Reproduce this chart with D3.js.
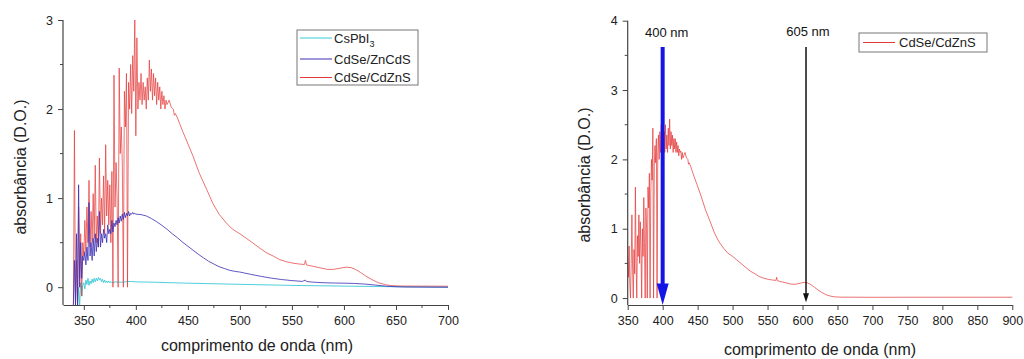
<!DOCTYPE html>
<html>
<head>
<meta charset="utf-8">
<script src="https://cdn.jsdelivr.net/npm/d3@7/dist/d3.min.js"></script>
<style>
  html, body { margin: 0; padding: 0; background: #fff; }
  svg { display: block; font-family: "Liberation Sans", Arial, sans-serif; }
</style>
</head>
<body>
<svg id="chart" width="1024" height="359"></svg>
<script>
// ---------------- DATA ----------------
// noisy head of spectra, 1 nm sampling
const redHeadLeftStart = 340;
const redHeadLeft = [
  -0.2, 1.76, -0.2, 0.3, -0.2, 0.9, 0.1, 0.6, -0.1, 0.5,
  0.35, 0.75, 0.4, 0.9, 0.5, 1.2, 0.45, 0.85, 0.5, 1.05,
  0.55, 1.37, 0.5, 0.8, 0.45, 1.45, 0.6, 1.0, 0.7, 1.25,
  0.6, 1.6, 0.8, 1.2, 0.7, 1.15, 0.5, 1.3, 0.0, 2.38,
  0.9, 1.4, 1.0, 0.0, 2.46, 1.5, 1.8, 1.4, 0.0, 2.2,
  1.8, 2.4, 0.0, 2.3, 2.0, 2.5, 1.95, 2.6, 2.2, 3.0,
  1.7, 2.8, 2.0, 2.3, 2.1, 2.4, 2.05, 2.3, 2.1, 2.25,
  2.0, 2.35, 2.1, 2.55, 2.2, 2.45, 2.1, 2.4, 2.15, 2.35,
  2.05, 2.3, 2.1, 2.25, 2.0, 2.2, 2.05, 2.15, 2.0, 2.1,
  2.05
];
const redHeadRightStart = 350;
const redHeadRight = [
  0.6, 0.3, 0.75, 0.2, 0.0, 0.5, 1.2, 0.4, 0.0, 0.7,
  0.35, 1.6, 0.5, 0.0, 0.9, 0.6, 1.2, 0.5, 1.1, 0.7,
  0.0, 1.0, 0.6, 1.45, 0.8, 0.0, 1.3, 1.0, 0.0, 1.6,
  1.3, 1.8, 0.0, 1.5, 2.0, 1.7, 2.45, 0.0, 1.9, 2.2,
  1.95, 2.3, 0.0, 2.1, 2.35, 2.0, 2.4, 2.1, 2.5, 2.2,
  2.45, 2.05, 2.4, 2.1, 2.5, 2.15, 2.35, 2.1, 2.45, 2.2,
  2.58, 2.15, 2.4, 2.2, 2.35, 2.1, 2.3, 2.15, 2.3, 2.1,
  2.25, 2.1, 2.2, 2.05, 2.15, 2.1, 2.12, 2.0, 2.1, 2.02,
  2.05
];
// smooth tail of CdSe/CdZnS (shared)
const redTailNm  = [432, 434, 436, 437, 438, 440, 442, 445, 449, 455, 461, 468, 474, 480, 487, 493, 500, 506, 512, 519, 525, 532, 538, 545, 551, 557, 562, 563, 564, 570, 576, 584, 590, 597, 602, 607, 611, 616, 621, 627, 633, 640, 645, 655, 680, 700, 750, 800, 850, 900];
const redTailVal = [2.1, 2.02, 2.0, 1.93, 1.95, 1.9, 1.84, 1.75, 1.64, 1.47, 1.28, 1.1, 0.94, 0.82, 0.72, 0.65, 0.6, 0.55, 0.5, 0.44, 0.39, 0.35, 0.31, 0.285, 0.27, 0.26, 0.255, 0.3, 0.25, 0.235, 0.22, 0.2, 0.2, 0.215, 0.225, 0.22, 0.2, 0.165, 0.125, 0.085, 0.05, 0.028, 0.018, 0.013, 0.012, 0.011, 0.012, 0.012, 0.012, 0.012];

const blueHeadStart = 340;
const blueHead = [
  -0.2, 0.3, -0.2, 0.6, -0.2, 1.15, 0.0, 0.5, 0.1, 0.35,
  0.3, 0.4, 0.25, 0.45, 0.3, 0.95, 0.35, 0.5, 0.3, 0.55,
  0.35, 0.6, 0.4, 0.55, 0.45, 0.85, 0.45, 0.6, 0.5, 0.65,
  0.55, 0.6, 0.5, 0.7, 0.6, 0.65, 0.6, 0.75, 0.62, 0.72,
  0.68, 0.75, 0.7, 0.78, 0.72, 0.8, 0.74, 0.82, 0.76, 0.84,
  0.78, 0.83, 0.8, 0.85, 0.8, 0.83, 0.82, 0.84, 0.82, 0.83,
  0.82
];
const blueTailNm  = [405, 410, 415, 420, 425, 430, 435, 440, 445, 450, 455, 460, 465, 470, 475, 480, 485, 490, 495, 500, 510, 520, 530, 540, 550, 560, 563, 564, 570, 580, 590, 600, 610, 620, 630, 640, 650, 660, 700];
const blueTailVal = [0.815, 0.8, 0.77, 0.735, 0.695, 0.65, 0.6, 0.555, 0.505, 0.46, 0.415, 0.37, 0.33, 0.29, 0.26, 0.23, 0.21, 0.19, 0.178, 0.17, 0.145, 0.122, 0.102, 0.086, 0.074, 0.065, 0.08, 0.064, 0.057, 0.05, 0.047, 0.045, 0.042, 0.035, 0.024, 0.012, 0.005, 0.002, 0.0];

const cyanHeadStart = 344;
const cyanHead = [
  -0.2, 0.0, -0.2, 0.05, -0.1, 0.02, 0.05, -0.02, 0.08, 0.03,
  0.1, 0.02, 0.07, 0.04, 0.09, 0.05, 0.1, 0.06, 0.1, 0.07,
  0.11, 0.08, 0.1, 0.06, 0.09, 0.05, 0.08, 0.05, 0.07, 0.05,
  0.07, 0.05, 0.06
];
const cyanTailNm  = [378, 380, 385, 390, 395, 400, 420, 450, 500, 550, 600, 650, 700];
const cyanTailVal = [0.05, 0.06, 0.055, 0.06, 0.065, 0.06, 0.055, 0.045, 0.032, 0.02, 0.012, 0.005, 0.0];

const seriesNames = ["CsPbI", "CdSe/ZnCdS", "CdSe/CdZnS"];
const seriesColors = ["#3cc8d8", "#3b2fb4", "#e43a3a"];

const leftXTicks = [350, 400, 450, 500, 550, 600, 650, 700];
const leftYTicks = [0, 1, 2, 3];
const rightXTicks = [350, 400, 450, 500, 550, 600, 650, 700, 750, 800, 850, 900];
const rightYTicks = [0, 1, 2, 3, 4];

const arrowNm = [400, 605];
const arrowLabels = ["400 nm", "605 nm"];

// ---------------- helpers ----------------
function headPts(start, vals) { return vals.map((v, i) => [start + i, v]); }
function pairPts(nm, vals) { return nm.map((n, i) => [n, vals[i]]); }

const cyanData = headPts(cyanHeadStart, cyanHead).concat(pairPts(cyanTailNm, cyanTailVal));
const blueData = headPts(blueHeadStart, blueHead).concat(pairPts(blueTailNm, blueTailVal));
const redLeftData = headPts(redHeadLeftStart, redHeadLeft).concat(pairPts(redTailNm, redTailVal)).filter(d => d[0] <= 700);
const redRightData = headPts(redHeadRightStart, redHeadRight).concat(pairPts(redTailNm, redTailVal));

const svg = d3.select("#chart");
const axisColor = "#444";
const tickFont = 12.5;
const fmt = d3.format("d");

function styleAxis(g) {
  g.selectAll("path").attr("stroke", axisColor).attr("stroke-width", 1.2);
  g.selectAll("line").attr("stroke", axisColor).attr("stroke-width", 1);
  g.selectAll("text").attr("fill", "#222").style("font-size", tickFont + "px")
    .style("font-family", '"Liberation Sans", Arial, sans-serif');
}

function minorTicks(g, scale, values, orient, size) {
  values.forEach(v => {
    if (orient === "bottom") {
      g.append("line").attr("x1", scale(v)).attr("x2", scale(v)).attr("y1", 0).attr("y2", size)
        .attr("stroke", axisColor).attr("stroke-width", 1);
    } else {
      g.append("line").attr("y1", scale(v)).attr("y2", scale(v)).attr("x1", 0).attr("x2", -size)
        .attr("stroke", axisColor).attr("stroke-width", 1);
    }
  });
}

// ---------------- LEFT PANEL ----------------
const L = { x0: 63, x1: 448, y0: 305, y1: 20 };
const xL = d3.scaleLinear().domain([330, 700]).range([L.x0, L.x1]);
const yL = d3.scaleLinear().domain([-0.2, 3]).range([L.y0, L.y1]);

svg.append("clipPath").attr("id", "clipL").append("rect")
  .attr("x", L.x0).attr("y", 0).attr("width", L.x1 - L.x0 + 2).attr("height", L.y0 - 0);

const lineL = d3.line().x(d => xL(d[0])).y(d => yL(d[1]));
const plotL = svg.append("g").attr("clip-path", "url(#clipL)");
plotL.append("path").datum(cyanData).attr("d", lineL).attr("fill", "none")
  .attr("stroke", seriesColors[0]).attr("stroke-width", 0.9);
plotL.append("path").datum(redLeftData).attr("d", lineL).attr("fill", "none")
  .attr("stroke", seriesColors[2]).attr("stroke-width", 0.8).attr("stroke-opacity", 0.9);
plotL.append("path").datum(blueData).attr("d", lineL).attr("fill", "none")
  .attr("stroke", seriesColors[1]).attr("stroke-width", 0.9).attr("stroke-opacity", 0.9);

const gxL = svg.append("g").attr("transform", `translate(0,${L.y0})`)
  .call(d3.axisBottom(xL).tickValues(leftXTicks).tickFormat(fmt).tickSize(5).tickSizeOuter(0).tickPadding(6));
minorTicks(gxL, xL, [375, 425, 475, 525, 575, 625, 675], "bottom", 3);
styleAxis(gxL);

const gyL = svg.append("g").attr("transform", `translate(${L.x0},0)`)
  .call(d3.axisLeft(yL).tickValues(leftYTicks).tickFormat(fmt).tickSize(5).tickSizeOuter(0).tickPadding(5));
minorTicks(gyL, yL, [0.5, 1.5, 2.5], "left", 3);
styleAxis(gyL);
gyL.select("path.domain").attr("d", `M0,${yL(-0.2)}V${yL(3)}`);

svg.append("text").attr("x", 257).attr("y", 351).attr("text-anchor", "middle")
  .style("font-size", "16px").attr("fill", "#222").text("comprimento de onda (nm)");
svg.append("text").attr("transform", "translate(26,167) rotate(-90)").attr("text-anchor", "middle")
  .style("font-size", "16px").attr("fill", "#222").text("absorbância (D.O.)");

// legend left
const legL = svg.append("g");
legL.append("rect").attr("x", 297).attr("y", 30).attr("width", 121).attr("height", 55)
  .attr("fill", "#fff").attr("stroke", "#777").attr("stroke-width", 1);
const legYs = [38, 59, 77.5];
seriesNames.forEach((name, i) => {
  legL.append("line").attr("x1", 300).attr("x2", 332).attr("y1", legYs[i]).attr("y2", legYs[i])
    .attr("stroke", seriesColors[i]).attr("stroke-width", 1);
  const t = legL.append("text").attr("x", 334).attr("y", legYs[i] + 4.5)
    .style("font-size", "13px").attr("fill", "#222").text(name);
  if (i === 0) t.append("tspan").attr("dy", 4).style("font-size", "9px").text("3");
});

// ---------------- RIGHT PANEL ----------------
const R = { x0: 627.7, x1: 1012.3, y0: 305, y1: 20.7 };
const xR = d3.scaleLinear().domain([350, 900]).range([R.x0, R.x1]);
const yR = d3.scaleLinear().domain([-0.1, 4]).range([R.y0, R.y1]);

svg.append("clipPath").attr("id", "clipR").append("rect")
  .attr("x", R.x0).attr("y", 0).attr("width", R.x1 - R.x0 + 2).attr("height", R.y0);
const lineR = d3.line().x(d => xR(d[0])).y(d => yR(d[1]));
svg.append("g").attr("clip-path", "url(#clipR)").append("path").datum(redRightData)
  .attr("d", lineR).attr("fill", "none").attr("stroke", seriesColors[2])
  .attr("stroke-width", 0.8).attr("stroke-opacity", 0.9);

const gxR = svg.append("g").attr("transform", `translate(0,${R.y0})`)
  .call(d3.axisBottom(xR).tickValues(rightXTicks).tickFormat(fmt).tickSize(5).tickSizeOuter(0).tickPadding(6));
styleAxis(gxR);
const gyR = svg.append("g").attr("transform", `translate(${R.x0},0)`)
  .call(d3.axisLeft(yR).tickValues(rightYTicks).tickFormat(fmt).tickSize(5).tickSizeOuter(0).tickPadding(5));
minorTicks(gyR, yR, [0.5, 1.5, 2.5, 3.5], "left", 3);
styleAxis(gyR);
gyR.select("path.domain").attr("d", `M0,${yR(-0.1)}V${yR(4)}`);

svg.append("text").attr("x", 820).attr("y", 355).attr("text-anchor", "middle")
  .style("font-size", "16px").attr("fill", "#222").text("comprimento de onda (nm)");
svg.append("text").attr("transform", "translate(590,175) rotate(-90)").attr("text-anchor", "middle")
  .style("font-size", "16px").attr("fill", "#222").text("absorbância (D.O.)");

// legend right
const legR = svg.append("g");
legR.append("rect").attr("x", 859).attr("y", 33).attr("width", 128).attr("height", 19)
  .attr("fill", "#fff").attr("stroke", "#777").attr("stroke-width", 1);
legR.append("line").attr("x1", 863).attr("x2", 895).attr("y1", 42.5).attr("y2", 42.5)
  .attr("stroke", seriesColors[2]).attr("stroke-width", 1);
legR.append("text").attr("x", 899).attr("y", 47).style("font-size", "13px").attr("fill", "#222")
  .text(seriesNames[2]);

// arrows
const ax0 = xR(arrowNm[0]);
svg.append("line").attr("x1", ax0).attr("x2", ax0).attr("y1", yR(3.62)).attr("y2", yR(0.2))
  .attr("stroke", "#1414e6").attr("stroke-width", 4);
svg.append("path").attr("d", `M${ax0 - 6},${yR(0.21)}L${ax0 + 6},${yR(0.21)}L${ax0},${yR(-0.1)}Z`)
  .attr("fill", "#1414e6");
svg.append("text").attr("x", ax0 + 4).attr("y", 36.5).attr("text-anchor", "middle")
  .style("font-size", "13px").attr("fill", "#111").text(arrowLabels[0]);
const ax1 = xR(arrowNm[1]);
svg.append("line").attr("x1", ax1).attr("x2", ax1).attr("y1", yR(3.62)).attr("y2", yR(0.05))
  .attr("stroke", "#111").attr("stroke-width", 1.5);
svg.append("path").attr("d", `M${ax1 - 3},${yR(0.07)}L${ax1 + 3},${yR(0.07)}L${ax1},${yR(-0.06)}Z`)
  .attr("fill", "#111");
svg.append("text").attr("x", ax1 + 2).attr("y", 35.5).attr("text-anchor", "middle")
  .style("font-size", "13px").attr("fill", "#111").text(arrowLabels[1]);
</script>
</body>
</html>
